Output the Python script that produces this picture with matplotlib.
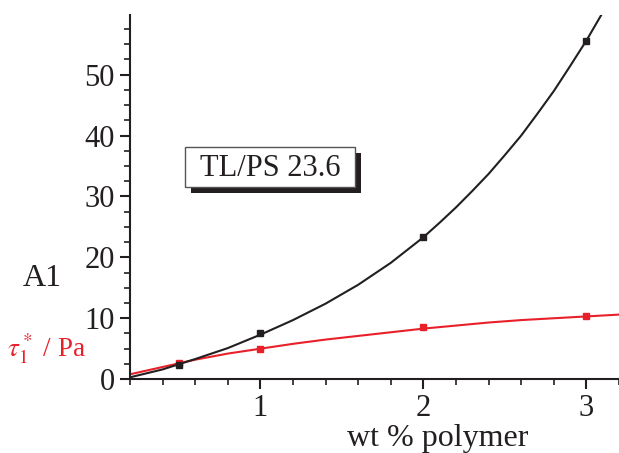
import matplotlib
matplotlib.use('Agg')
import matplotlib.pyplot as plt
from matplotlib.patches import Rectangle
from matplotlib.ticker import MultipleLocator

plt.rcParams['font.family'] = 'Liberation Serif'
plt.rcParams['mathtext.fontset'] = 'stix'

# measured points
wt = [0.5, 1, 2, 3]
tau_black = [2.4, 7.5, 23.4, 55.6]
tau_red = [2.7, 5.0, 8.6, 10.4]

# fit curves
fit_x_black = [0.2, 0.4, 0.6, 0.8, 1.0, 1.2, 1.4, 1.6, 1.8, 2.0, 2.1, 2.2, 2.3, 2.4, 2.5,
               2.6, 2.7, 2.8, 2.9, 3.0, 3.1, 3.2]
fit_black = [0.3, 1.6, 3.3, 5.1, 7.3, 9.7, 12.4, 15.5, 19.1, 23.3, 25.7, 28.2, 30.9, 33.7, 36.8,
             40.0, 43.6, 47.3, 51.4, 55.6, 60.2, 65.0]
fit_x_red = [0.2, 0.4, 0.6, 0.8, 1.0, 1.2, 1.4, 1.6, 1.8, 2.0, 2.2, 2.4, 2.6, 2.8, 3.0, 3.2]
fit_red = [0.8, 2.0, 3.2, 4.2, 5.0, 5.8, 6.5, 7.1, 7.7, 8.3, 8.8, 9.3, 9.7, 10.0, 10.3, 10.6]

red = '#e8202a'
ink = '#231f20'
fig = plt.figure(figsize=(6.19, 4.53), dpi=100)
ax = fig.add_axes([0.21, 0.163, 0.79, 0.804])

ax.plot(fit_x_red, fit_red, color=red, lw=1.5)
ax.plot(fit_x_black, fit_black, color=ink, lw=1.5)
ax.plot(wt, tau_red, 's', color=red, ms=5, clip_on=False)
ax.plot(wt, tau_black, 's', color=ink, ms=5, clip_on=False)

ax.set_xlim(0.2, 3.2)
ax.set_ylim(0, 59.8)
ax.xaxis.set_major_locator(MultipleLocator(1))
ax.xaxis.set_minor_locator(MultipleLocator(0.2))
ax.yaxis.set_major_locator(MultipleLocator(10))
ax.yaxis.set_minor_locator(MultipleLocator(2.5))
for s in ['top', 'right']:
    ax.spines[s].set_visible(False)
for s in ['left', 'bottom']:
    ax.spines[s].set_linewidth(1.5)
    ax.spines[s].set_color(ink)
ax.tick_params(which='major', direction='out', length=7, width=1.5, labelsize=22, colors=ink, pad=4)
ax.tick_params(which='minor', direction='out', length=4, width=1.2, colors=ink)
ax.set_xlabel('wt % polymer', fontsize=23, color=ink, va='center')
ax.xaxis.set_label_coords(0.63, -0.162)

fig.text(42 / 619, 1 - 278 / 453, 'A1', fontsize=23, color=ink, ha='center', va='center')
fig.text(46 / 619, 1 - 349 / 453, r'$\tau_1^*$ / Pa', fontsize=19.5, color=red, ha='center', va='center')

# label box with shadow
fig.add_artist(Rectangle((0.309, 0.574), 0.2745, 0.0883, transform=fig.transFigure,
                         facecolor=ink, edgecolor='none'))
fig.add_artist(Rectangle((0.299, 0.5872), 0.2745, 0.0883, transform=fig.transFigure,
                         facecolor='white', edgecolor='#555555', lw=1))
fig.text(270 / 619, 1 - 168 / 453, 'TL/PS 23.6', fontsize=22, color=ink, ha='center', va='center')

fig.savefig('out.png', dpi=100)
